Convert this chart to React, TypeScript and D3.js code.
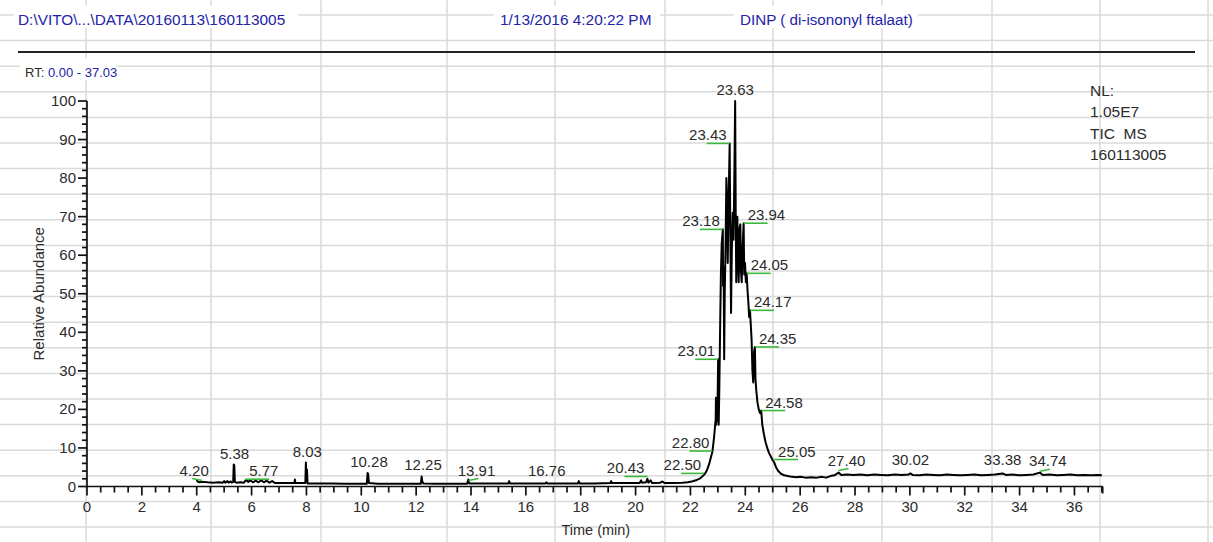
import React from 'react';
import * as d3 from 'd3';

// ---------- chromatogram data (retention time in min, relative abundance in %) ----------
const preRunTrace: [number, number][] = [
  [4.00, 1.8], [4.03, 1.3], [4.10, 1.1], [4.25, 1.2], [4.40, 1.1], [4.60, 1.0], [4.80, 1.1], [4.95, 1.0],
  [5.00, 1.4], [5.04, 1.0], [5.12, 1.4], [5.16, 1.0], [5.24, 1.3], [5.28, 1.0], [5.33, 1.2], [5.35, 5.7],
  [5.37, 5.5], [5.39, 1.2], [5.45, 1.0], [5.60, 1.1], [5.72, 1.0], [5.80, 1.7], [5.88, 1.2], [5.95, 1.6],
  [6.05, 1.1], [6.15, 1.5], [6.25, 1.1], [6.35, 1.6], [6.45, 1.1], [6.55, 1.5], [6.65, 1.0], [6.75, 1.4],
  [6.85, 0.9], [7.10, 0.9], [7.35, 0.9], [7.56, 0.9], [7.58, 1.8], [7.60, 0.9], [7.85, 0.9], [7.96, 0.9],
  [7.98, 6.2], [8.00, 1.2], [8.02, 4.4], [8.04, 0.8], [8.40, 0.8], [8.90, 0.8], [9.40, 0.7], [9.90, 0.7],
  [10.20, 0.7], [10.23, 3.5], [10.25, 3.2], [10.28, 0.9], [10.60, 0.7], [11.10, 0.7], [11.60, 0.7],
  [12.17, 0.7], [12.20, 2.6], [12.22, 1.4], [12.26, 0.8], [12.70, 0.7], [13.30, 0.7], [13.86, 0.7],
  [13.90, 1.8], [13.93, 0.8], [14.40, 0.8], [14.90, 0.8], [15.36, 0.8], [15.39, 1.4], [15.42, 0.8],
  [15.90, 0.8], [16.40, 0.8], [16.72, 0.8], [16.75, 1.1], [16.78, 0.8], [17.30, 0.8], [17.90, 0.8],
  [17.93, 1.4], [17.96, 0.8], [18.50, 0.8], [19.08, 0.9], [19.11, 1.4], [19.14, 0.9], [19.60, 0.9],
  [20.15, 0.9], [20.20, 1.6], [20.24, 1.0], [20.38, 1.1], [20.43, 2.0], [20.47, 1.0], [20.55, 1.6],
  [20.60, 0.9], [20.90, 1.0], [20.98, 1.3], [21.05, 0.9], [21.40, 0.9], [21.70, 1.0], [21.90, 1.1],
  [22.05, 1.3], [22.20, 1.6], [22.35, 2.1], [22.45, 2.7], [22.52, 3.2], [22.60, 4.2], [22.68, 5.8],
  [22.74, 7.4], [22.80, 9.0], [22.85, 12.0], [22.89, 15.0],
];

const mainPeakTrace: [number, number][] = [
  [22.92, 17.5], [22.93, 23.0], [22.94, 16.0], [22.96, 22.0], [22.98, 17.0], [23.01, 33.0], [23.03, 16.0],
  [23.05, 24.0], [23.08, 40.0], [23.11, 55.0], [23.14, 63.0], [23.18, 66.7], [23.19, 52.0], [23.21, 57.0],
  [23.23, 33.0], [23.25, 50.0], [23.28, 62.0], [23.31, 80.0], [23.34, 72.0], [23.36, 58.0], [23.39, 74.0],
  [23.43, 89.0], [23.45, 70.0], [23.48, 45.0], [23.51, 62.0], [23.54, 71.0], [23.57, 64.0], [23.60, 80.0],
  [23.63, 100.0], [23.65, 72.0], [23.67, 53.0], [23.69, 66.0], [23.71, 70.0], [23.74, 57.0], [23.76, 53.0],
  [23.79, 67.0], [23.82, 68.0], [23.84, 56.0], [23.87, 53.0], [23.90, 62.0], [23.94, 68.3], [23.96, 55.0],
  [23.99, 58.0], [24.02, 53.0], [24.05, 55.3], [24.08, 51.0], [24.11, 48.0], [24.14, 44.0], [24.17, 45.7],
  [24.20, 42.0], [24.23, 38.0], [24.26, 30.0], [24.29, 27.0], [24.32, 35.0], [24.35, 36.2], [24.37, 28.0],
  [24.40, 25.0], [24.44, 22.0], [24.49, 20.0], [24.54, 19.0], [24.58, 19.7], [24.62, 16.0], [24.68, 13.5],
  [24.74, 11.5], [24.80, 10.0], [24.86, 8.8], [24.93, 7.8], [25.00, 6.8], [25.05, 6.3], [25.12, 5.0],
  [25.20, 4.0], [25.30, 3.3], [25.42, 2.9], [25.55, 2.7], [25.70, 2.5],
];

const tailTrace: [number, number][] = [
  [25.85, 2.4], [26.00, 2.5], [26.20, 2.3], [26.40, 2.4], [26.60, 2.3], [26.80, 2.5], [26.95, 2.3],
  [27.10, 2.7], [27.25, 2.9], [27.40, 3.6], [27.50, 3.0], [27.70, 3.1], [27.95, 3.0], [28.20, 3.1],
  [28.45, 2.9], [28.70, 3.1], [28.95, 3.0], [29.20, 2.9], [29.45, 3.1], [29.70, 3.0], [29.95, 3.1],
  [30.02, 3.4], [30.10, 3.0], [30.35, 2.9], [30.60, 3.1], [30.85, 3.0], [31.10, 2.9], [31.35, 3.1],
  [31.60, 3.0], [31.85, 2.9], [32.10, 3.0], [32.35, 3.1], [32.60, 2.9], [32.85, 3.0], [33.10, 3.1],
  [33.38, 3.4], [33.50, 3.0], [33.75, 3.1], [34.00, 2.9], [34.25, 3.0], [34.50, 3.1], [34.74, 3.6],
  [34.85, 3.0], [35.10, 3.1], [35.35, 2.9], [35.60, 3.0], [35.85, 3.1], [36.10, 2.9], [36.35, 3.0],
  [36.60, 2.9], [36.85, 3.0], [37.00, 2.9],
];

// labelled peaks: retention time and the abundance the callout points at
const peakTimes = [4.20, 5.38, 5.77, 8.03, 10.28, 12.25, 13.91, 16.76, 20.43, 22.50, 22.80, 23.01, 23.18,
  23.43, 23.63, 23.94, 24.05, 24.17, 24.35, 24.58, 25.05, 27.40, 30.02, 33.38, 34.74];
const peakLevels = [1.8, 5.7, 1.9, 6.2, 3.5, 2.6, 1.8, 1.1, 2.6, 3.4, 9.2, 33.0, 66.7,
  89.0, 100.0, 68.3, 55.3, 45.7, 36.2, 19.7, 7.0, 4.4, 3.9, 3.9, 4.2];

const timeTicks = d3.range(0, 37, 2);
const abundanceTicks = d3.range(0, 101, 10);
const RT_MAX = 37.03;

const fileLabel = 'D:\\VITO\\...\\DATA\\20160113\\160113005';
const dateLabel = '1/13/2016 4:20:22 PM';
const sampleLabel = 'DINP ( di-isononyl ftalaat)';
const traceInfo = ['NL:', '1.05E7', 'TIC  MS', '160113005'];

// ---------- layout ----------
const W = 1213;
const H = 542;
const FONT = '"Liberation Sans", Arial, Helvetica, sans-serif';
const INK = '#2b2b2b';
const NAVY = '#2424a8';
const CALLOUT = '#3cb83c';
const SHEET_LINE = '#dadada';
// spreadsheet cell borders behind the printout
const sheetCols = [86, 211, 321, 447, 555, 665, 773, 882, 992, 1100, 1208];
const sheetRowStart = 15;
const sheetRowStep = 25.6;

type Side = 'C' | 'L' | 'R' | 'S' | 'SL';
const calloutSide: Record<string, Side> = {
  '4.20': 'SL', '5.77': 'R', '13.91': 'S', '20.43': 'L', '22.50': 'L', '22.80': 'L', '23.01': 'L',
  '23.18': 'L', '23.43': 'L', '23.94': 'R', '24.05': 'R', '24.17': 'R', '24.35': 'R', '24.58': 'R',
  '25.05': 'R', '27.40': 'S', '34.74': 'S',
};

export default function App() {
  const x = d3.scaleLinear().domain([0, RT_MAX]).range([87, 1102.7]);
  const y = d3.scaleLinear().domain([0, 100]).range([486.5, 101]);

  const trace = [...preRunTrace, ...mainPeakTrace, ...tailTrace];
  const line = d3.line<[number, number]>().x((d) => x(d[0])).y((d) => y(d[1]));

  const minorX = d3.range(0, RT_MAX, 0.5);
  const minorY = d3.range(0, 101, 2);
  const rows = d3.range(0, 21).map((i) => sheetRowStart + i * sheetRowStep);

  const callouts = peakTimes.map((t, i) => {
    const label = t.toFixed(2);
    const side: Side = calloutSide[label] || 'C';
    const px = x(t);
    const py = y(peakLevels[i]);
    return { label, side, px, py };
  });

  return (
    <svg width={W} height={H} style={{ position: 'absolute', left: 0, top: 0, background: '#fff' }}
      fontFamily={FONT}>
      <rect width={W} height={H} fill="#fff" />
      {/* sheet grid */}
      <g stroke={SHEET_LINE} strokeWidth={1.5}>
        {rows.map((r) => <line key={'r' + r} x1={0} x2={W} y1={r} y2={r} />)}
        {sheetCols.map((c) => <line key={'c' + c} x1={c} x2={c} y1={0} y2={H} />)}
      </g>

      {/* header */}
      <rect x={14} y={6} width={284} height={22} fill="#fff" />
      <rect x={494} y={6} width={166} height={22} fill="#fff" />
      <rect x={734} y={6} width={184} height={22} fill="#fff" />
      <rect x={20} y={58} width={96} height={22} fill="#fff" />
      <text x={18} y={25} fontSize={15.4} fill={NAVY}>{fileLabel}</text>
      <text x={500} y={25} fontSize={15.4} fill={NAVY}>{dateLabel}</text>
      <text x={740} y={25} fontSize={15.2} fill={NAVY}>{sampleLabel}</text>
      <line x1={18} x2={1195} y1={52} y2={52} stroke="#222" strokeWidth={2} />
      <text x={25} y={77} fontSize={13} fill={INK}>
        RT: <tspan fill={NAVY}>0.00 - 37.03</tspan>
      </text>
      {traceInfo.map((s, i) => (
        <text key={s} x={1090} y={96 + i * 21.3} fontSize={15.5} fill={INK} style={{ whiteSpace: 'pre' }}>{s}</text>
      ))}

      {/* y axis */}
      <g stroke="#111" strokeWidth={1.7}>
        <line x1={x(0)} x2={x(0)} y1={y(100)} y2={y(0) + 1} />
        {minorY.map((v) => (
          <line key={'yt' + v} x1={x(0) - (v % 10 === 0 ? 9 : 5)} x2={x(0)} y1={y(v)} y2={y(v)} />
        ))}
      </g>
      {abundanceTicks.map((v) => (
        <text key={'yl' + v} x={x(0) - 11} y={y(v) + 5} fontSize={15} textAnchor="end" fill={INK}>{v}</text>
      ))}
      <text transform={`translate(44,${y(50)}) rotate(-90)`} fontSize={15} textAnchor="middle" fill={INK}>
        Relative Abundance
      </text>

      {/* x axis */}
      <g stroke="#111" strokeWidth={1.7}>
        <line x1={x(0)} x2={x(RT_MAX)} y1={y(0)} y2={y(0)} />
        {minorX.map((t) => (
          <line key={'xt' + t} x1={x(t)} x2={x(t)} y1={y(0)} y2={y(0) + (t % 2 === 0 ? 9 : 6)} />
        ))}
        <line x1={x(RT_MAX)} x2={x(RT_MAX)} y1={y(0)} y2={y(0) + 7} />
      </g>
      {timeTicks.map((t) => (
        <text key={'xl' + t} x={x(t)} y={y(0) + 25} fontSize={15} textAnchor="middle" fill={INK}>{t}</text>
      ))}
      <text x={(x(0) + x(RT_MAX)) / 2 + 1} y={535} fontSize={14.5} textAnchor="middle" fill={INK}>Time (min)</text>

      {/* trace */}
      <path d={line(trace) || ''} fill="none" stroke="#000" strokeWidth={2} strokeLinejoin="round" />

      {/* peak callouts */}
      {callouts.map(({ label, side, px, py }) => {
        if (side === 'L') {
          return (
            <g key={label}>
              <line x1={px - 23} x2={px} y1={py} y2={py} stroke={CALLOUT} strokeWidth={1.6} />
              <text x={px - 3} y={py - 3} fontSize={15} textAnchor="end" fill={INK}>{label}</text>
            </g>
          );
        }
        if (side === 'R') {
          return (
            <g key={label}>
              <line x1={px} x2={px + 24} y1={py} y2={py} stroke={CALLOUT} strokeWidth={1.6} />
              <text x={px + 4} y={py - 3} fontSize={15} textAnchor="start" fill={INK}>{label}</text>
            </g>
          );
        }
        if (side === 'S' || side === 'SL') {
          const dir = side === 'S' ? 1 : -1;
          return (
            <g key={label}>
              <line x1={px} x2={px + dir * 10} y1={py + 1} y2={py - 1} stroke={CALLOUT} strokeWidth={1.6} />
              <text x={px + dir * 8} y={py - 4} fontSize={15} textAnchor="middle" fill={INK}>{label}</text>
            </g>
          );
        }
        return (
          <text key={label} x={px} y={py - 6} fontSize={15} textAnchor="middle" fill={INK}>{label}</text>
        );
      })}
    </svg>
  );
}
